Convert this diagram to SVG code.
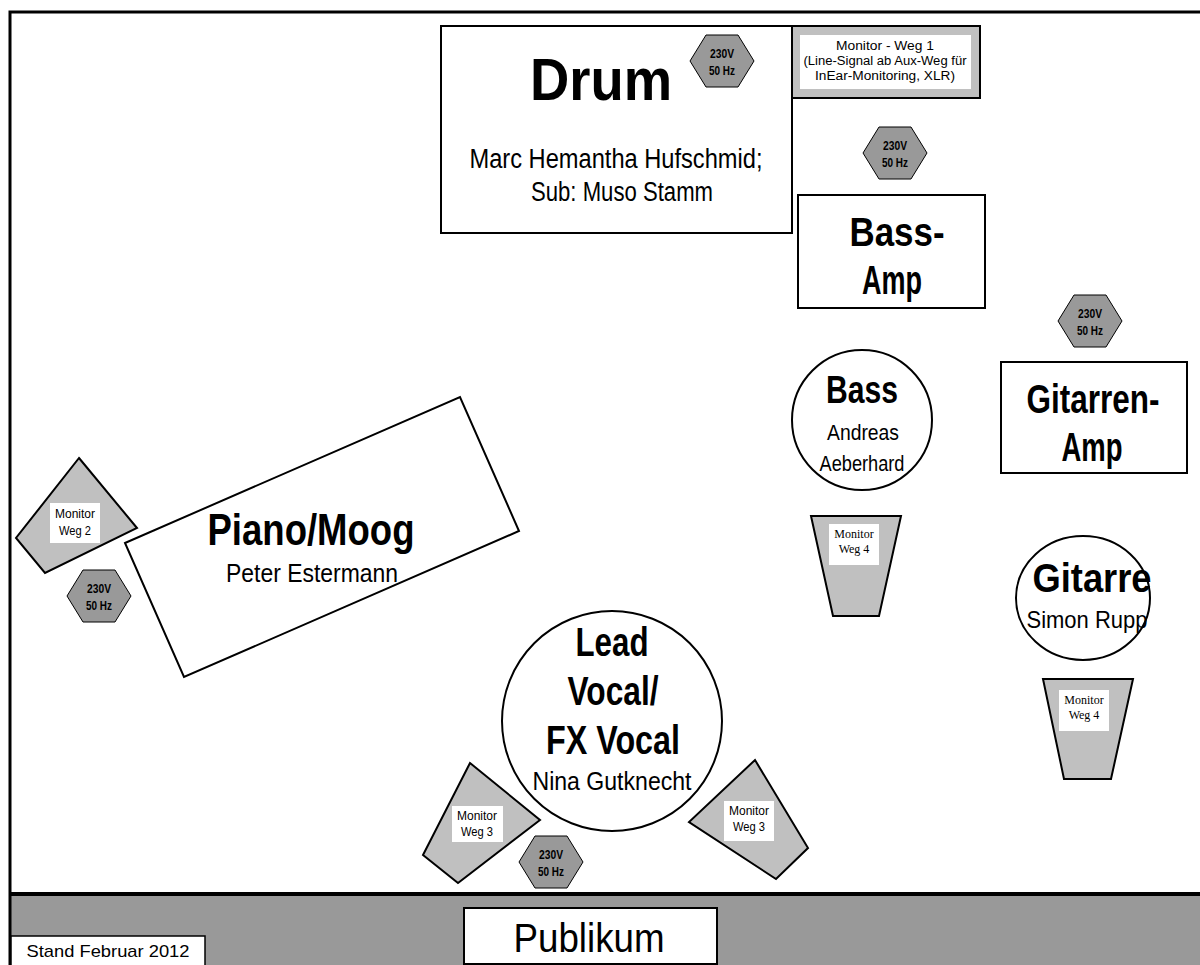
<svg xmlns="http://www.w3.org/2000/svg" width="1200" height="965" viewBox="0 0 1200 965">
<style>
.t{font-family:"Liberation Sans",Arial,sans-serif;fill:#000;text-anchor:middle}
.b{font-weight:bold}
.ln{fill:#fff;stroke:#000;stroke-width:2}
.mon{fill:#c0c0c0;stroke:#000;stroke-width:2}
.hexs{fill:#999;stroke:#000;stroke-width:1}
.wb{fill:#fff;stroke:none}
.ser{font-family:"Liberation Serif","Times New Roman",serif;fill:#000;text-anchor:middle}
</style>
<defs>
<polygon id="hex" points="-32,0 -16,-26 16,-26 32,0 16,26 -16,26"/>
</defs>
<rect x="0" y="0" width="1200" height="965" fill="#fff"/>
<g id="stage">
<rect x="10" y="894" width="1190" height="71" fill="#999"/>
<path d="M10,965 V12 H1200" fill="none" stroke="#000" stroke-width="3"/>
<line x1="10" y1="894" x2="1200" y2="894" stroke="#000" stroke-width="4"/>
</g>
<g id="connectors"></g>
<g id="drum">
<rect class="ln" x="441" y="26" width="351" height="207"/>
<text class="t b" x="601" y="100" font-size="59" textLength="142" lengthAdjust="spacingAndGlyphs">Drum</text>
<text class="t" x="616" y="168" font-size="27" textLength="293" lengthAdjust="spacingAndGlyphs">Marc Hemantha Hufschmid;</text>
<text class="t" x="622" y="201" font-size="27" textLength="182" lengthAdjust="spacingAndGlyphs">Sub: Muso Stamm</text>
</g>
<g id="hex-drum">
<use href="#hex" class="hexs" x="722" y="61"/>
<text class="t b" x="722" y="58" font-size="12" textLength="24" lengthAdjust="spacingAndGlyphs">230V</text>
<text class="t b" x="722" y="75" font-size="12" textLength="26" lengthAdjust="spacingAndGlyphs">50 Hz</text>
</g>
<g id="monitor1">
<rect class="mon" x="792" y="26" width="188" height="72"/>
<rect class="wb" x="800" y="35" width="171" height="54"/>
<text class="t" x="885" y="50" font-size="12" textLength="98" lengthAdjust="spacingAndGlyphs">Monitor - Weg 1</text>
<text class="t" x="885" y="65" font-size="12" textLength="163" lengthAdjust="spacingAndGlyphs">(Line-Signal ab Aux-Weg für</text>
<text class="t" x="885" y="80" font-size="12" textLength="140" lengthAdjust="spacingAndGlyphs">InEar-Monitoring, XLR)</text>
</g>
<g id="hex-bassamp">
<use href="#hex" class="hexs" x="895" y="153"/>
<text class="t b" x="895" y="150" font-size="12" textLength="24" lengthAdjust="spacingAndGlyphs">230V</text>
<text class="t b" x="895" y="167" font-size="12" textLength="26" lengthAdjust="spacingAndGlyphs">50 Hz</text>
</g>
<g id="bassamp">
<rect class="ln" x="798" y="195" width="187" height="113"/>
<text class="t b" x="897" y="246" font-size="40" textLength="95" lengthAdjust="spacingAndGlyphs">Bass-</text>
<text class="t b" x="892" y="294" font-size="40" textLength="60" lengthAdjust="spacingAndGlyphs">Amp</text>
</g>
<g id="hex-gitamp">
<use href="#hex" class="hexs" x="1090" y="321"/>
<text class="t b" x="1090" y="318" font-size="12" textLength="24" lengthAdjust="spacingAndGlyphs">230V</text>
<text class="t b" x="1090" y="335" font-size="12" textLength="26" lengthAdjust="spacingAndGlyphs">50 Hz</text>
</g>
<g id="gitamp">
<rect class="ln" x="1001" y="362" width="186" height="111"/>
<text class="t b" x="1093" y="413" font-size="40" textLength="133" lengthAdjust="spacingAndGlyphs">Gitarren-</text>
<text class="t b" x="1092" y="461" font-size="40" textLength="61" lengthAdjust="spacingAndGlyphs">Amp</text>
</g>
<g id="bass">
<circle class="ln" cx="862" cy="420" r="70"/>
<text class="t b" x="862" y="403" font-size="38" textLength="72" lengthAdjust="spacingAndGlyphs">Bass</text>
<text class="t" x="863" y="440" font-size="22" textLength="72" lengthAdjust="spacingAndGlyphs">Andreas</text>
<text class="t" x="862" y="471" font-size="22" textLength="85" lengthAdjust="spacingAndGlyphs">Aeberhard</text>
</g>
<g id="monitor4a">
<polygon class="mon" points="811,516 901,516 879,616 833,616"/>
<rect class="wb" x="829" y="524" width="50" height="41"/>
<text class="ser" x="854" y="538" font-size="12">Monitor</text>
<text class="ser" x="854" y="553" font-size="12">Weg 4</text>
</g>
<g id="gitarre">
<ellipse class="ln" cx="1083" cy="598" rx="67" ry="62"/>
<text class="t b" x="1092" y="592" font-size="40" textLength="119" lengthAdjust="spacingAndGlyphs">Gitarre</text>
<text class="t" x="1087" y="628" font-size="24" textLength="121" lengthAdjust="spacingAndGlyphs">Simon Rupp</text>
</g>
<g id="monitor4b">
<polygon class="mon" points="1043,679 1133,679 1111,779 1064,779"/>
<rect class="wb" x="1059" y="690" width="50" height="41"/>
<text class="ser" x="1084" y="704" font-size="12">Monitor</text>
<text class="ser" x="1084" y="719" font-size="12">Weg 4</text>
</g>
<g id="piano">
<polygon class="ln" points="125,543 460,397 519,531 184,677"/>
<text class="t b" x="311" y="545" font-size="44" textLength="207" lengthAdjust="spacingAndGlyphs">Piano/Moog</text>
<text class="t" x="312" y="582" font-size="25" textLength="172" lengthAdjust="spacingAndGlyphs">Peter Estermann</text>
</g>
<g id="monitor2">
<polygon class="mon" points="79,458 137,528 45,573 16,538"/>
<rect class="wb" x="50" y="503" width="50" height="40"/>
<text class="t" x="75" y="518" font-size="12" textLength="40" lengthAdjust="spacingAndGlyphs">Monitor</text>
<text class="t" x="75" y="535" font-size="12" textLength="32" lengthAdjust="spacingAndGlyphs">Weg 2</text>
</g>
<g id="hex-piano">
<use href="#hex" class="hexs" x="99" y="596"/>
<text class="t b" x="99" y="593" font-size="12" textLength="24" lengthAdjust="spacingAndGlyphs">230V</text>
<text class="t b" x="99" y="610" font-size="12" textLength="26" lengthAdjust="spacingAndGlyphs">50 Hz</text>
</g>
<g id="vocal">
<circle class="ln" cx="612" cy="721" r="110"/>
<text class="t b" x="612" y="656" font-size="40" textLength="73" lengthAdjust="spacingAndGlyphs">Lead</text>
<text class="t b" x="613" y="705" font-size="40" textLength="91" lengthAdjust="spacingAndGlyphs">Vocal/</text>
<text class="t b" x="613" y="754" font-size="40" textLength="134" lengthAdjust="spacingAndGlyphs">FX Vocal</text>
<text class="t" x="612" y="790" font-size="25" textLength="159" lengthAdjust="spacingAndGlyphs">Nina Gutknecht</text>
</g>
<g id="monitor3a">
<polygon class="mon" points="470,763 540,820 458,883 423,855"/>
<rect class="wb" x="452" y="806" width="51" height="36"/>
<text class="t" x="477" y="820" font-size="12" textLength="40" lengthAdjust="spacingAndGlyphs">Monitor</text>
<text class="t" x="477" y="836" font-size="12" textLength="32" lengthAdjust="spacingAndGlyphs">Weg 3</text>
</g>
<g id="hex-vocal">
<use href="#hex" class="hexs" x="551" y="862"/>
<text class="t b" x="551" y="859" font-size="12" textLength="24" lengthAdjust="spacingAndGlyphs">230V</text>
<text class="t b" x="551" y="876" font-size="12" textLength="26" lengthAdjust="spacingAndGlyphs">50 Hz</text>
</g>
<g id="monitor3b">
<polygon class="mon" points="755,760 808,848 776,879 689,822"/>
<rect class="wb" x="724" y="801" width="50" height="40"/>
<text class="t" x="749" y="815" font-size="12" textLength="40" lengthAdjust="spacingAndGlyphs">Monitor</text>
<text class="t" x="749" y="831" font-size="12" textLength="32" lengthAdjust="spacingAndGlyphs">Weg 3</text>
</g>
<g id="publikum">
<rect class="ln" x="464" y="908" width="253" height="56"/>
<text class="t" x="589" y="952" font-size="40" textLength="151" lengthAdjust="spacingAndGlyphs">Publikum</text>
</g>
<g id="stand">
<rect x="11" y="936" width="194" height="30" fill="#fff" stroke="#000" stroke-width="1.5"/>
<text class="t" x="108" y="957" font-size="17" textLength="163" lengthAdjust="spacingAndGlyphs">Stand Februar 2012</text>
</g>
</svg>
